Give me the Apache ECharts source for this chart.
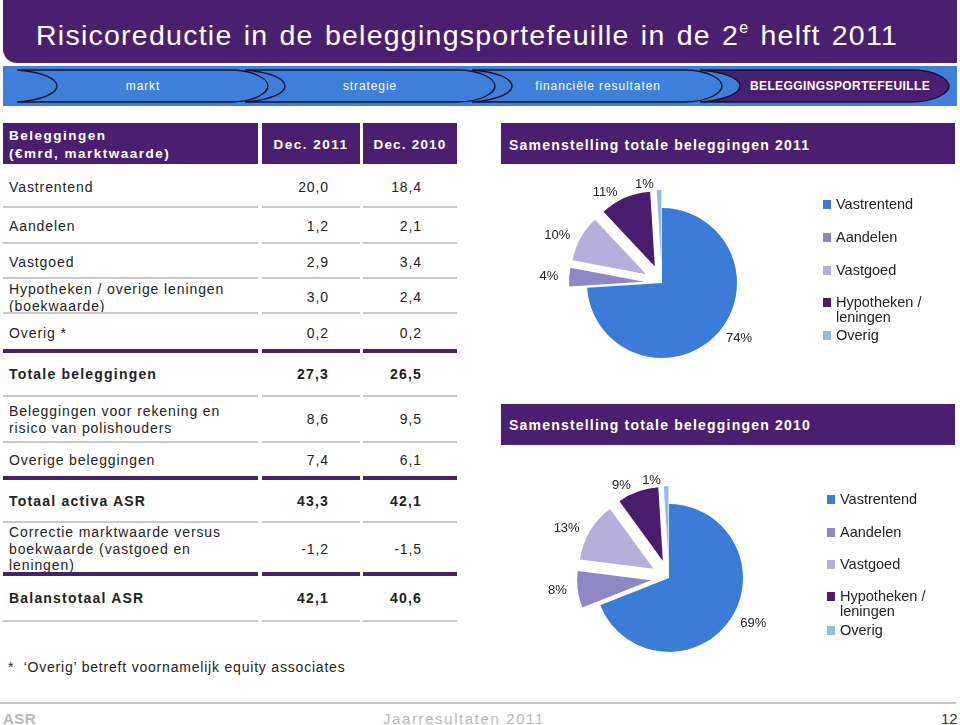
<!DOCTYPE html>
<html>
<head>
<meta charset="utf-8">
<script src="https://cdn.jsdelivr.net/npm/echarts@6/dist/echarts.min.js"></script>
<style>
  html,body{margin:0;padding:0;background:#fff;}
  body{width:960px;height:725px;position:relative;overflow:hidden;font-family:"Liberation Sans",Arial,sans-serif;color:#222;}
  .abs{position:absolute;}
  .title{left:36px;top:35px;transform:translateY(-50%);font-size:28.5px;color:#fff;letter-spacing:1.25px;word-spacing:2px;white-space:nowrap;}
  .title sup{font-size:16px;vertical-align:12px;line-height:0;}
  .nav{font-size:12px;color:#fff;letter-spacing:0.9px;top:86px;transform:translate(-50%,-50%);white-space:nowrap;}
  .hcell{background:#4b1f70;}
  .htext{color:#fff;font-weight:bold;font-size:13.5px;letter-spacing:1.5px;white-space:nowrap;line-height:18px;}
  .lbl{left:9px;font-size:14px;letter-spacing:0.9px;line-height:16.5px;transform:translateY(-50%);white-space:nowrap;}
  .val{font-size:14px;letter-spacing:0.9px;transform:translateY(-50%);text-align:right;white-space:nowrap;}
  .bold{font-weight:bold;letter-spacing:1.2px;}
  .sepg{background:#c9c9c9;height:2px;}
  .sepp{background:#4b1f70;height:4px;}
  #chart{position:absolute;left:0;top:0;width:960px;height:725px;z-index:5;}
</style>
</head>
<body>
<div class="abs" style="left:3px;top:0;width:954px;height:63px;background:#4b1f70;border-bottom-left-radius:14px;"></div>
<div class="abs title">Risicoreductie in de beleggingsportefeuille in de 2<sup>e</sup> helft 2011</div>
<div class="abs" style="left:3px;top:66px;width:954px;height:40px;background:#3d7fdb;"></div>
<svg class="abs" style="left:0;top:0;" width="960" height="110" id="tabs"></svg>
<div id="navtext"></div>
<div id="table"></div>
<div class="abs hcell" style="left:501px;top:123px;width:454px;height:41px;"></div>
<div class="abs htext" style="left:509px;top:145px;transform:translateY(-50%);font-size:14px;letter-spacing:1.2px;">Samenstelling totale beleggingen 2011</div>
<div class="abs hcell" style="left:501px;top:404px;width:454px;height:41px;"></div>
<div class="abs htext" style="left:509px;top:425px;transform:translateY(-50%);font-size:14px;letter-spacing:1.2px;">Samenstelling totale beleggingen 2010</div>
<div class="abs" style="left:8px;top:667px;transform:translateY(-50%);font-size:14px;letter-spacing:0.8px;white-space:pre;">*  ‘Overig’ betreft voornamelijk equity associates</div>
<div class="abs" style="left:0;top:702px;width:956px;height:2px;background:#c4c4c4;"></div>
<div class="abs" style="left:3px;top:718px;transform:translateY(-50%);font-size:15px;font-weight:bold;color:#b8b8b8;letter-spacing:0.5px;">ASR</div>
<div class="abs" style="left:383px;top:718px;transform:translateY(-50%);font-size:15px;color:#b8b8b8;letter-spacing:1.6px;">Jaarresultaten 2011</div>
<div class="abs" style="left:941px;top:718px;transform:translateY(-50%);font-size:15px;color:#333;">12</div>
<div id="chart"></div>
<script>
// ---------- data ----------
const navItems = ['markt', 'strategie', 'financiële resultaten', 'BELEGGINGSPORTEFEUILLE'];
const tableHeader = ['Beleggingen\n(€mrd, marktwaarde)', 'Dec. 2011', 'Dec. 2010'];
const rowLabels = [
  'Vastrentend', 'Aandelen', 'Vastgoed', 'Hypotheken / overige leningen\n(boekwaarde)', 'Overig *',
  'Totale beleggingen', 'Beleggingen voor rekening en\nrisico van polishouders', 'Overige beleggingen',
  'Totaal activa ASR', 'Correctie marktwaarde versus\nboekwaarde (vastgoed en\nleningen)', 'Balanstotaal ASR'
];
const dec2011 = ['20,0', '1,2', '2,9', '3,0', '0,2', '27,3', '8,6', '7,4', '43,3', '-1,2', '42,1'];
const dec2010 = ['18,4', '2,1', '3,4', '2,4', '0,2', '26,5', '9,5', '6,1', '42,1', '-1,5', '40,6'];
const boldRows = [5, 8, 10];
const categories = ['Vastrentend', 'Aandelen', 'Vastgoed', 'Hypotheken / leningen', 'Overig'];
const share2011 = [74, 4, 10, 11, 1];
const share2010 = [69, 8, 13, 9, 1];

// ---------- layout (not data) ----------
const purple = '#4b1f70';
const sliceColors = ['#3b7cd9', '#8f86c4', '#b6aedb', '#4a1c6e', '#93bbe8'];
const rowY = [187, 226, 262, 297, 333, 374, 419, 460, 501, 549, 598];
const sepY = [207, 243, 278, 313, 351, 396, 442, 478, 522, 574, 621];
const sepKind = ['g', 'g', 'g', 'g', 'p', 'g', 'g', 'p', 'g', 'p', 'g'];
const cols = [[3, 258], [262, 360], [363, 457]];

// tabs
const tabX = [[17, 268], [245, 495], [472, 722], [700, 949]];
let svg = '';
tabX.forEach(([x0, x1], i) => {
  const fill = i === 3 ? purple : '#3d7fdb';
  const d = `M${x0},70 L${x1 - 38},70 C${x1 - 12},70 ${x1},80 ${x1},86 C${x1},92 ${x1 - 12},102 ${x1 - 38},102 L${x0},102 C${x0 + 26},100 ${x0 + 40},93 ${x0 + 40},86 C${x0 + 40},79 ${x0 + 26},72 ${x0},70 Z`;
  svg += `<path d="${d}" fill="${fill}" stroke="#141428" stroke-width="1.4"/>`;
});
document.getElementById('tabs').innerHTML = svg;
const navCx = [143, 370, 598, 840];
document.getElementById('navtext').innerHTML = navItems.map((t, i) =>
  `<div class="abs nav" style="left:${navCx[i]}px;${i === 3 ? 'font-weight:bold;letter-spacing:0.4px;' : ''}">${t}</div>`).join('');

// table
let h = '';
cols.forEach(([a, b]) => { h += `<div class="abs hcell" style="left:${a}px;top:123px;width:${b - a}px;height:41px;"></div>`; });
h += `<div class="abs htext" style="left:9px;top:145px;transform:translateY(-50%);">${tableHeader[0].replace('\n', '<br>')}</div>`;
h += `<div class="abs htext" style="left:262px;width:98px;text-align:center;top:145px;transform:translateY(-50%);">${tableHeader[1]}</div>`;
h += `<div class="abs htext" style="left:363px;width:94px;text-align:center;top:145px;transform:translateY(-50%);letter-spacing:1.2px;">${tableHeader[2]}</div>`;
rowLabels.forEach((lab, i) => {
  const b = boldRows.includes(i) ? ' bold' : '';
  h += `<div class="abs lbl${b}" style="top:${rowY[i]}px;">${lab.split('\n').join('<br>')}</div>`;
  h += `<div class="abs val${b}" style="left:200px;width:129px;top:${rowY[i]}px;">${dec2011[i]}</div>`;
  h += `<div class="abs val${b}" style="left:300px;width:122px;top:${rowY[i]}px;">${dec2010[i]}</div>`;
  const k = sepKind[i];
  cols.forEach(([a, bb]) => {
    h += `<div class="abs ${k === 'p' ? 'sepp' : 'sepg'}" style="left:${a}px;width:${bb - a}px;top:${sepY[i] - (k === 'p' ? 2 : 1)}px;"></div>`;
  });
});
document.getElementById('table').innerHTML = h;

// ---------- chart ----------
const chart = echarts.init(document.getElementById('chart'), null, { renderer: 'canvas' });
function pieSeries(values, center, r) {
  return {
    type: 'pie', center: center, radius: r, startAngle: 90, clockwise: true,
    selectedMode: 'multiple', selectedOffset: 18, avoidLabelOverlap: false,
    silent: true, animation: false,
    label: { show: true, position: 'outside', formatter: p => p.value + '%', color: '#222',
      fontSize: 13, fontFamily: 'Liberation Sans' },
    labelLine: { show: false, length: 6, length2: 0 },
    emphasis: { disabled: true },
    data: categories.map((c, i) => ({ name: c, value: values[i], selected: i > 0,
      itemStyle: { color: sliceColors[i] } }))
  };
}
const legendY = [[203, 236, 269, 302, 334], [498, 531, 563, 596, 629]];
const legendX = [823, 827];
const legends = [];
legendY.forEach((ys, p) => {
  categories.forEach((c, i) => {
    const multi = c.indexOf(' / ') >= 0;
    legends.push({
      data: [c],
      left: legendX[p], top: multi ? ys[i] - 22 : ys[i] - 6,
      padding: 0,
      orient: 'vertical', icon: 'rect', itemWidth: 8, itemHeight: 9,
      selectedMode: false,
      // multi-line name: an empty first line keeps the swatch level with "Hypotheken /"
      formatter: n => n.indexOf(' / ') >= 0 ? '\n' + n.replace(' / ', ' /\n') : n,
      textStyle: { fontSize: 14.5, color: '#222', fontFamily: 'Liberation Sans', lineHeight: 15 }
    });
  });
});
chart.setOption({
  animation: false,
  legend: legends,
  series: [pieSeries(share2011, [662, 283], 75), pieSeries(share2010, [669, 578], 74)]
});
</script>
</body>
</html>
